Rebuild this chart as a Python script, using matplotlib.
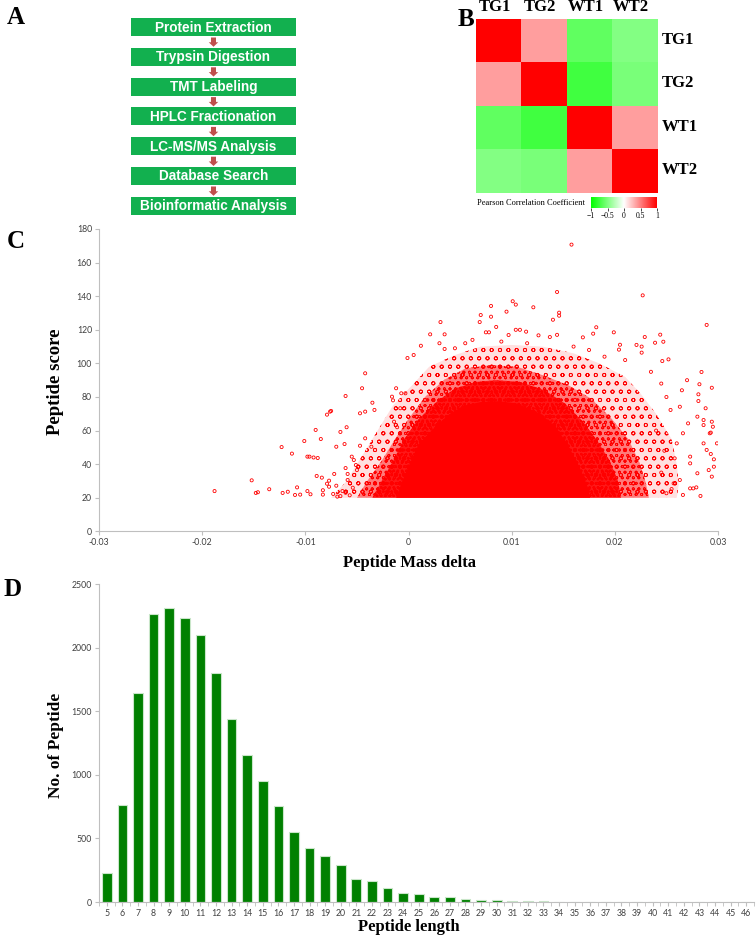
import numpy as np
import matplotlib
matplotlib.use("Agg")
import matplotlib.pyplot as plt
import matplotlib.transforms as mtransforms
from matplotlib.patches import Rectangle, FancyArrow
from matplotlib.colors import LinearSegmentedColormap

plt.rcParams['axes.unicode_minus'] = False
plt.rcParams['hatch.linewidth'] = 0.6

# ---------------- data ----------------
steps = ["Protein Extraction", "Trypsin Digestion", "TMT Labeling",
         "HPLC Fractionation", "LC-MS/MS Analysis", "Database Search",
         "Bioinformatic Analysis"]

samples = ["TG1", "TG2", "WT1", "WT2"]
corr = np.array([[1.00, 0.38, -0.62, -0.48],
                 [0.38, 1.00, -0.75, -0.52],
                 [-0.62, -0.75, 1.00, 0.38],
                 [-0.48, -0.52, 0.38, 1.00]])

# dense cloud of peptides: outlines of the solid core and of the halo bands
core_delta = [-0.0012, -0.0006, 0.0001, 0.0010, 0.0027, 0.0040, 0.0055, 0.0070,
              0.0088, 0.0106, 0.0128, 0.0143, 0.0154, 0.0166, 0.0174, 0.0176]
core_score = [20, 30, 40, 52, 63, 70, 75, 77, 77.5, 76, 70, 62, 52, 38, 26, 20]

inner_delta = [-0.0035, -0.0026, -0.0015, -0.0004, 0.0010, 0.0027, 0.0045, 0.0065,
               0.0085, 0.0108, 0.0132, 0.0152, 0.0168, 0.0183, 0.0195, 0.0203, 0.0206]
inner_score = [20, 30, 42, 55, 67, 77, 85, 89, 90, 89, 84, 76, 66, 54, 42, 30, 20]

mid_delta = [-0.0050, -0.0040, -0.0026, -0.0013, 0.0000, 0.0016, 0.0034, 0.0055,
             0.0080, 0.0105, 0.0130, 0.0155, 0.0177, 0.0197, 0.0213, 0.0224, 0.0230, 0.0233]
mid_score = [20, 30, 42, 55, 67, 80, 90, 97, 99, 98, 93, 87, 79, 67, 55, 41, 29, 20]

halo_delta = [-0.0075, -0.0060, -0.0045, -0.0030, -0.0015, 0.0005, 0.0020, 0.0045,
              0.0070, 0.0100, 0.0130, 0.0160, 0.0185, 0.0210, 0.0225, 0.0240, 0.0255,
              0.0260, 0.0262, 0.0260]
halo_score = [20, 30, 45, 60, 75, 88, 98, 105, 110, 111, 110, 106, 100, 92, 82, 70,
              55, 40, 28, 20]

# sparse peptides outside the cloud
out_delta = [-0.0188, -0.0152, -0.0148, -0.0146, -0.0135, -0.0123, -0.0122, -0.0117,
             -0.0113, -0.0110, -0.0108, -0.0105, -0.0101, -0.0098, -0.0096, -0.0092,
             -0.0098, -0.0095, -0.0090, -0.0089, -0.0088, -0.0085, -0.0084, -0.0083,
             -0.0083, -0.0079, -0.0076, -0.0079, -0.0077, -0.0077, -0.0072, -0.0073,
             -0.0070, -0.0070, -0.0069, -0.0066, -0.0061, -0.0062, -0.0060, -0.0061,
             -0.0059, -0.0059, -0.0045, -0.0042, -0.0047, -0.0042, -0.0047, -0.0042,
             -0.0035, -0.0033, -0.0036, -0.0051, -0.0053, -0.0055, -0.0050, -0.0075,
             -0.0064, -0.0057, -0.0054, -0.0066, -0.0061,
             -0.0001, 0.0005, -0.0016, -0.0015, -0.0012, -0.0007, -0.0003, -0.0008,
             -0.0014, -0.0011, 0.0012, 0.0021, 0.0035, 0.0035, 0.0031,
             0.0158, 0.0144, 0.0227, 0.0289, 0.0101, 0.0104, 0.0080, 0.0095, 0.0121,
             0.0146, 0.0146, 0.0140, 0.0070, 0.0069, 0.0080, 0.0085, 0.0182, 0.0075,
             0.0078, 0.0104, 0.0108, 0.0114, 0.0097, 0.0126, 0.0137, 0.0144, 0.0169,
             0.0179, 0.0199, 0.0229, 0.0244, 0.0247, 0.0239, 0.0221, 0.0226, 0.0205,
             0.0204, 0.0226, 0.0246, 0.0252, 0.0055, 0.0062, 0.0090, 0.0115, 0.0160,
             0.0175, 0.0190, 0.0210, 0.0030, 0.0045,
             0.0284, 0.0282, 0.0294, 0.0281, 0.0281, 0.0288, 0.0280, 0.0286, 0.0295,
             0.0293, 0.0299, 0.0293, 0.0296, 0.0296, 0.0291, 0.0283, 0.0266, 0.0276,
             0.0280, 0.0273, 0.0260, 0.0266, 0.0254, 0.0263, 0.0271, 0.0257, 0.0250,
             0.0258, 0.0294, 0.0294, 0.0279, 0.0273, 0.0255, 0.0263, 0.0273, 0.0289,
             0.0286, 0.0292, 0.0286, 0.0245, 0.0235, 0.0250, 0.0265, 0.0270, 0.0240,
             0.0248, 0.0245]
out_score = [24.0, 30.4, 22.9, 23.3, 25.1, 50.2, 22.9, 23.6,
             46.3, 21.7, 26.2, 21.9, 53.8, 44.5, 44.5, 44.0,
             24.0, 22.1, 60.4, 33.0, 43.7, 55.0, 32.0, 24.5,
             21.9, 69.5, 71.3, 28.4, 30.2, 26.6, 34.2, 22.3,
             50.4, 27.2, 20.7, 59.2, 80.6, 52.0, 62.0, 37.7,
             34.2, 30.6, 85.2, 94.1, 70.3, 71.3, 51.0, 55.4,
             76.6, 72.3, 50.4, 39.5, 42.5, 44.5, 36.5, 71.7,
             24.0, 21.5, 26.0, 21.0, 23.0,
             103.2, 105.0, 80.2, 78.0, 85.2, 82.2, 82.2, 73.3,
             65.3, 62.0, 110.5, 117.3, 117.3, 108.6, 124.6,
             170.7, 142.5, 140.5, 122.9, 137.0, 135.0, 134.2, 130.8, 133.4,
             130.2, 128.4, 126.0, 128.8, 124.6, 127.8, 121.7, 121.5, 118.5,
             118.5, 120.0, 120.0, 118.9, 116.9, 116.7, 115.7, 117.0, 115.5,
             117.7, 118.5, 115.7, 117.1, 112.9, 112.3, 111.0, 110.0, 111.1,
             108.2, 106.4, 101.4, 102.4, 112.0, 114.0, 113.0, 112.0, 110.0,
             108.0, 104.0, 102.0, 112.0, 109.0,
             94.9, 87.6, 85.5, 81.6, 77.6, 73.3, 68.3, 66.3, 62.3,
             58.8, 52.4, 46.1, 42.9, 38.5, 36.5, 21.1, 21.7, 25.6,
             34.6, 44.5, 52.4, 58.4, 72.3, 74.2, 64.3, 28.6, 22.7,
             43.5, 65.3, 32.6, 26.2, 25.6, 25.2, 30.6, 40.5, 48.5,
             52.4, 58.4, 63.3, 88.0, 95.0, 80.0, 84.0, 90.0, 60.0,
             48.0, 35.0]

delta_ticks = [-0.03, -0.02, -0.01, 0, 0.01, 0.02, 0.03]
delta_labels = ["-0.03", "-0.02", "-0.01", "0", "0.01", "0.02", "0.03"]

lengths = list(range(5, 47))
counts = [231, 763, 1642, 2263, 2310, 2229, 2097, 1797, 1437, 1155, 950, 758, 550,
          424, 358, 287, 184, 163, 110, 68, 63, 39, 37, 26, 18, 16, 8, 10, 8, 2, 1,
          0, 0, 0, 0, 0, 0, 0, 0, 0, 0, 0]

# ---------------- figure ----------------
W, H = 756, 939
fig = plt.figure(figsize=(W / 100, H / 100), dpi=100)

def rect(x0, y0, x1, y1):
    return [x0 / W, 1 - y1 / H, (x1 - x0) / W, (y1 - y0) / H]

serif = "Liberation Serif"
tick_font = "Lato"
gray = "#bfbfbf"

# panel letters
for letter, x, y in [("A", 7, 17), ("B", 458, 19), ("C", 7, 242), ("D", 3, 590)]:
    fig.text(x / W, 1 - y / H, letter, fontsize=18, fontweight="bold",
             family=serif, va="center", ha="left")

# ---- A: workflow ----
ax_a = fig.add_axes(rect(0, 0, 440, 230))
ax_a.set_xlim(0, 440)
ax_a.set_ylim(230, 0)
ax_a.axis("off")
box_left, box_w, box_h, first_top, step = 131, 165, 18, 18, 29.8
for i, s in enumerate(steps):
    top = first_top + i * step
    ax_a.add_patch(Rectangle((box_left, top), box_w, box_h, color="#12b04f", lw=0))
    ax_a.text(box_left + box_w / 2, top + box_h / 2 + 0.5, s, color="white",
              fontsize=9.8, fontweight="bold", family="Liberation Sans",
              ha="center", va="center")
    if i < len(steps) - 1:
        y0 = top + box_h + 1.5
        ax_a.add_patch(FancyArrow(box_left + box_w / 2, y0, 0, step - box_h - 2.5,
                                  width=5, head_width=9.5, head_length=4.5,
                                  length_includes_head=True, color="#c0504d", lw=0))

# ---- B: correlation heatmap ----
cmap = LinearSegmentedColormap.from_list("gwr", [(0, 1, 0), (1, 1, 1), (1, 0, 0)])
ax_b = fig.add_axes(rect(476, 19, 658, 193))
ax_b.imshow(corr, cmap=cmap, vmin=-1, vmax=1, aspect="auto")
ax_b.set_xticks(range(4))
ax_b.set_xticklabels(samples, fontsize=12, fontweight="bold", family=serif)
ax_b.xaxis.tick_top()
ax_b.set_yticks(range(4))
ax_b.set_yticklabels(samples, fontsize=12, fontweight="bold", family=serif)
ax_b.yaxis.tick_right()
ax_b.tick_params(length=0, pad=3)
shift_left = mtransforms.ScaledTranslation(-4 / 100, 0, fig.dpi_scale_trans)
for lab in ax_b.get_xticklabels():
    lab.set_transform(lab.get_transform() + shift_left)
shift_up = mtransforms.ScaledTranslation(0, 3 / 100, fig.dpi_scale_trans)
for lab in ax_b.get_yticklabels():
    lab.set_transform(lab.get_transform() + shift_up)
for sp in ax_b.spines.values():
    sp.set_visible(False)

ax_cb = fig.add_axes(rect(591, 197, 657, 208))
ax_cb.imshow(np.linspace(-1, 1, 256)[None, :], extent=[-1, 1, 0, 1],
             aspect="auto", cmap=cmap)
ax_cb.set_yticks([])
ax_cb.set_xticks([-1, -0.5, 0, 0.5, 1])
ax_cb.set_xticklabels(["\u22121", "\u22120.5", "0", "0.5", "1"], fontsize=5.5, family=serif)
ax_cb.tick_params(axis="x", length=2, width=0.5, pad=1)
for sp in ax_cb.spines.values():
    sp.set_visible(False)
fig.text(477 / W, 1 - 203 / H, "Pearson Correlation Coefficient", fontsize=6,
         family=serif, va="center", ha="left")

# ---- C: mass delta vs score ----
ax_c = fig.add_axes(rect(99, 229, 718, 531.4))
bands = [(halo_delta, halo_score, 0.12, "oo"),
         (mid_delta, mid_score, 0.45, "ooo"),
         (inner_delta, inner_score, 0.8, "oooo")]
for z, (bx, by, a, h) in enumerate(bands):
    ax_c.fill(bx, by, facecolor=(1, 0, 0, a), edgecolor="red", lw=0,
              hatch=h, zorder=1 + z)
ax_c.fill(core_delta, core_score, facecolor="red", lw=0, zorder=4)
ax_c.scatter(out_delta, out_score, s=5, facecolors="none", edgecolors="red",
             linewidths=0.6, zorder=5)
ax_c.set_xlim(-0.03, 0.03)
ax_c.set_ylim(0, 180)
ax_c.set_xticks(delta_ticks)
ax_c.set_xticklabels(delta_labels)
ax_c.set_yticks(range(0, 181, 20))

# ---- D: peptide length histogram ----
ax_d = fig.add_axes(rect(99, 584, 754, 902))
x = np.arange(len(lengths))
ax_d.bar(x, counts, width=0.62, color="#008000", edgecolor="#c9e6c9", lw=0.8)
ax_d.set_xlim(-0.5, len(lengths) - 0.5)
ax_d.set_ylim(0, 2500)
ax_d.set_xticks(x)
ax_d.set_xticklabels([str(v) for v in lengths])
ax_d.set_xticks(np.arange(len(lengths) + 1) - 0.5, minor=True)
ax_d.tick_params(axis="x", which="major", length=0)
ax_d.tick_params(axis="x", which="minor", length=3, color=gray)
ax_d.set_yticks(range(0, 2501, 500))

for ax in (ax_c, ax_d):
    ax.spines["top"].set_visible(False)
    ax.spines["right"].set_visible(False)
    ax.spines["left"].set_color(gray)
    ax.spines["bottom"].set_color(gray)
    ax.spines["left"].set_linewidth(0.8)
    ax.spines["bottom"].set_linewidth(0.8)
    ax.tick_params(which="major", direction="out", length=3, color=gray,
                   labelsize=6.3, labelcolor="#404040", pad=2)
    for lab in ax.get_xticklabels() + ax.get_yticklabels():
        lab.set_family(tick_font)

# axis titles
fig.text(409 / W, 1 - 563 / H, "Peptide Mass delta", fontsize=12, fontweight="bold",
         family=serif, ha="center", va="center")
fig.text(56 / W, 1 - 382 / H, "Peptide score", fontsize=13.5, fontweight="bold",
         family=serif, ha="center", va="center", rotation=90)
fig.text(409 / W, 1 - 927 / H, "Peptide length", fontsize=12, fontweight="bold",
         family=serif, ha="center", va="center")
fig.text(56 / W, 1 - 745 / H, "No. of Peptide", fontsize=12.5, fontweight="bold",
         family=serif, ha="center", va="center", rotation=90)

fig.savefig("out.png", dpi=100)
